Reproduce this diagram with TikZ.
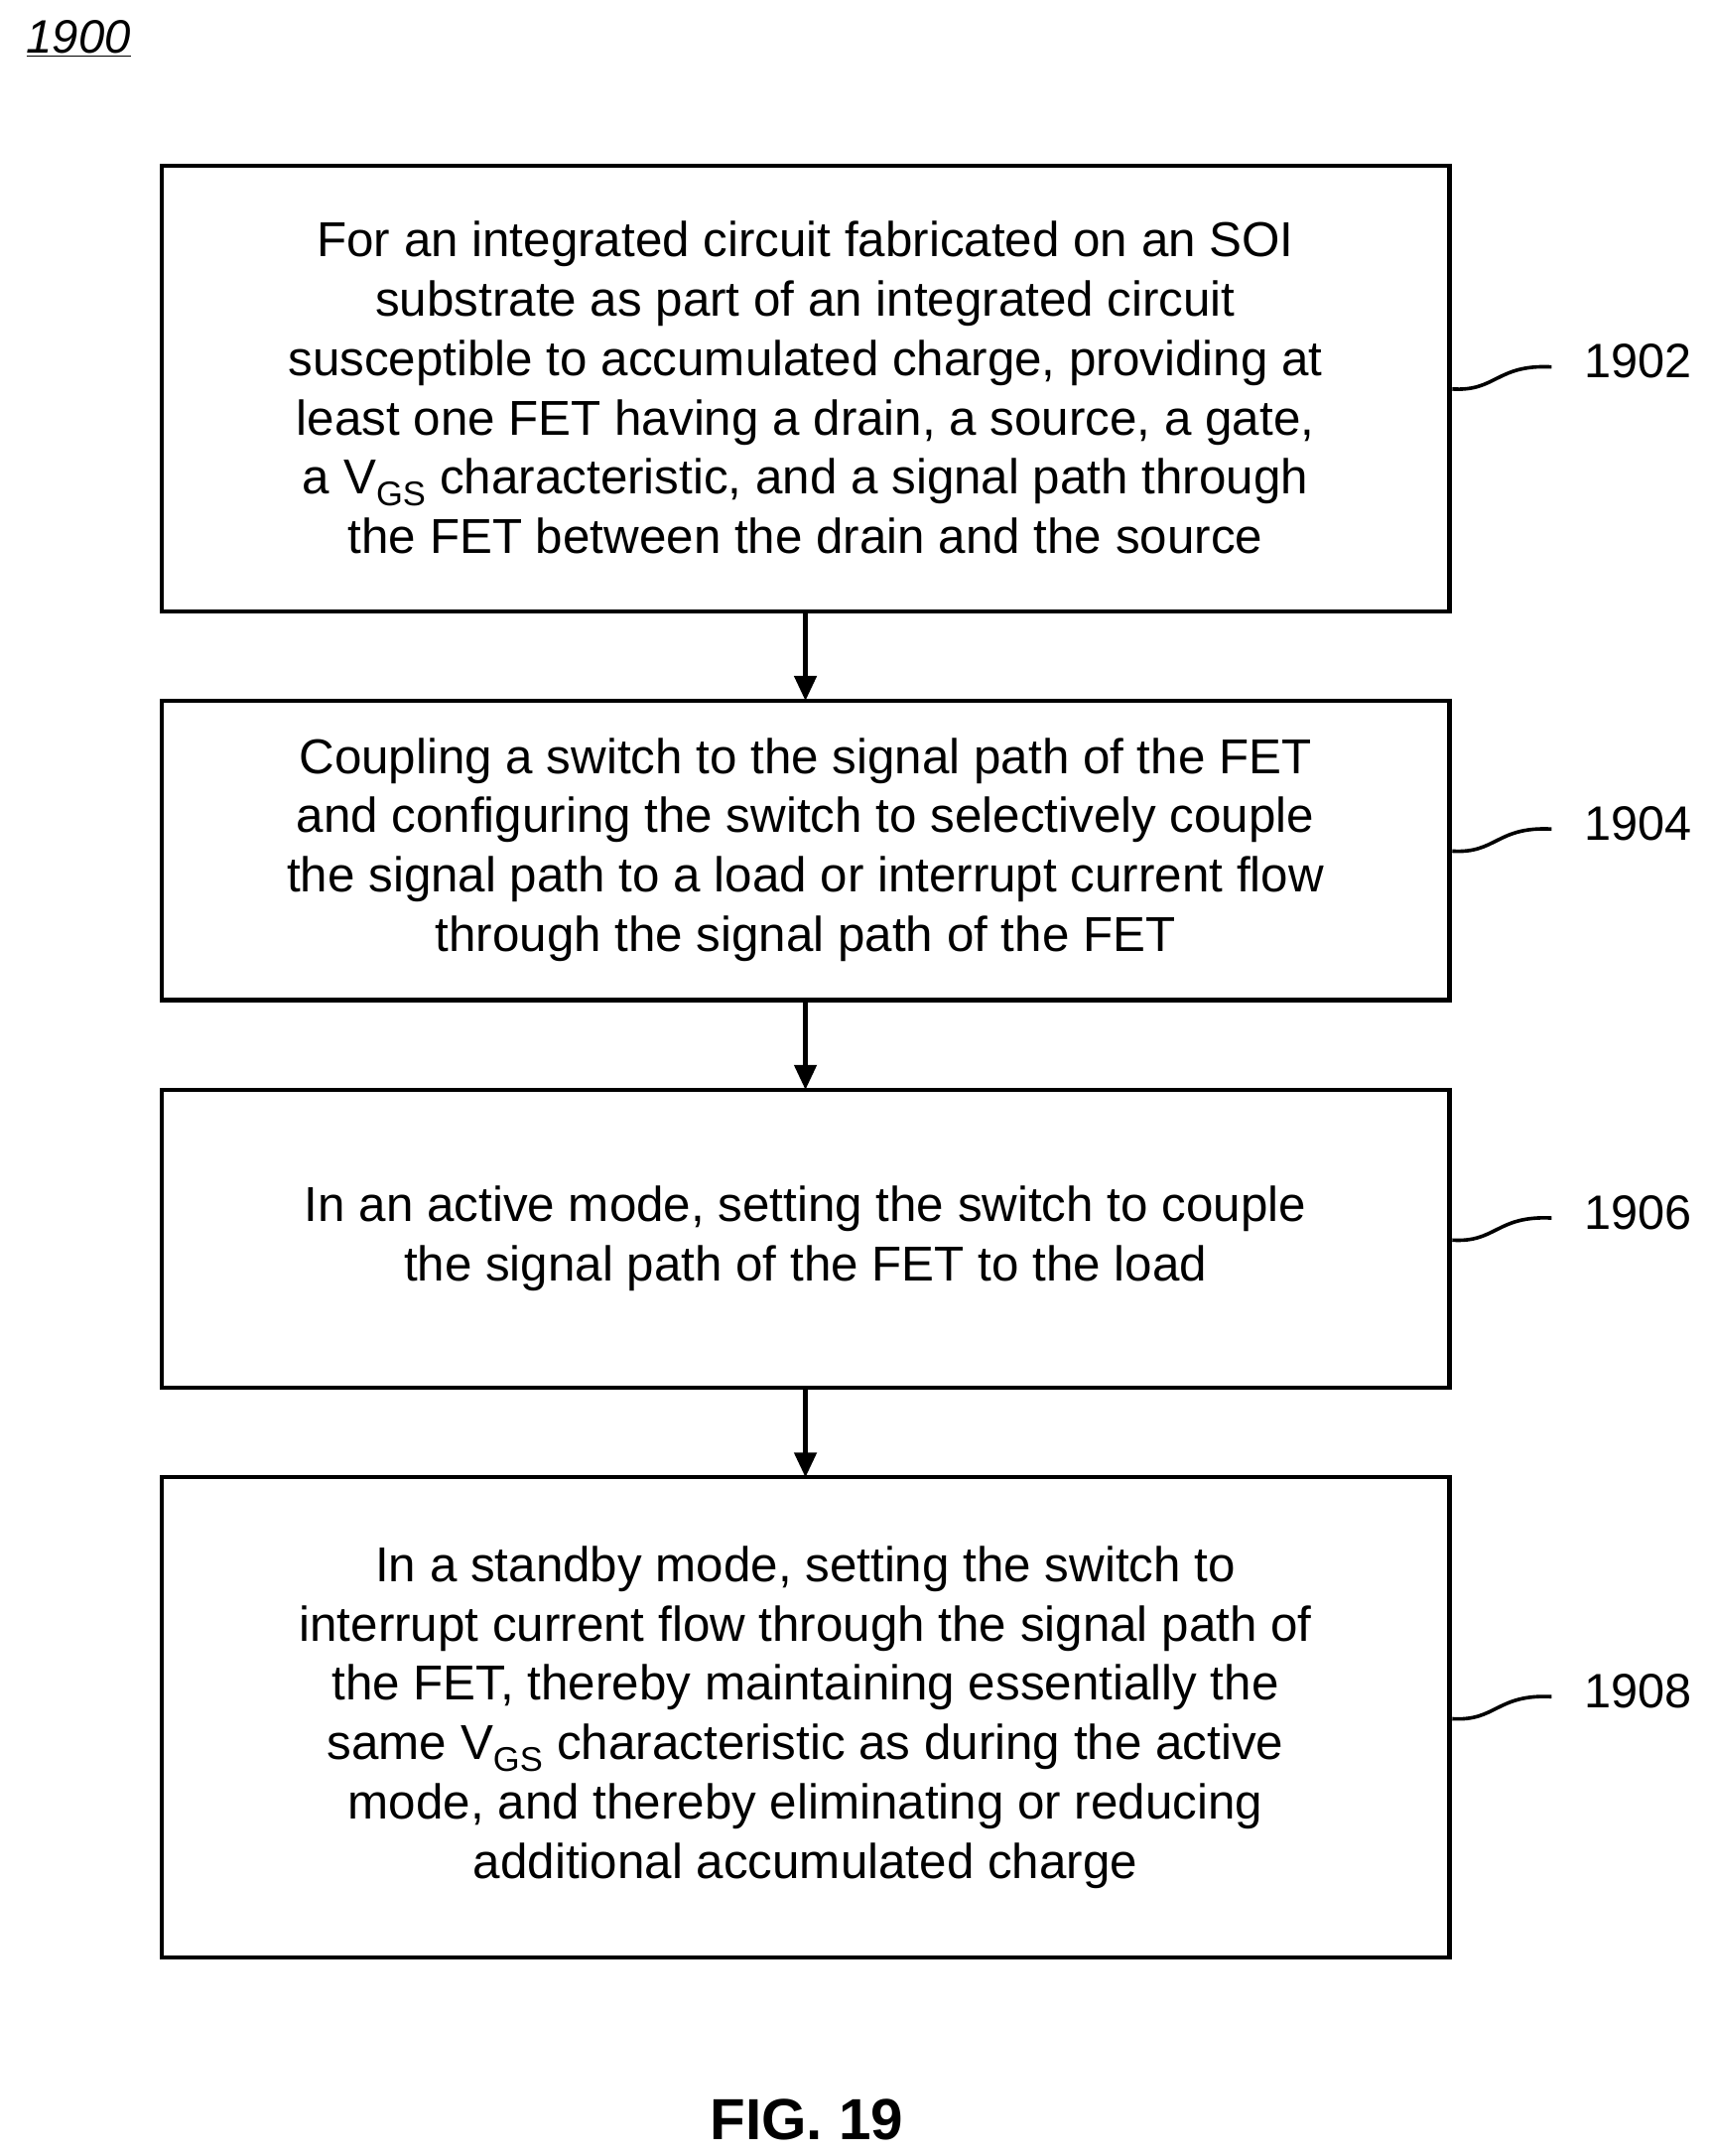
\documentclass[tikz,border=0pt]{standalone}
\usepackage{fontspec}
\setmainfont{Liberation Sans}
\usetikzlibrary{arrows.meta}
\begin{document}
\begin{tikzpicture}[x=1pt,y=-1pt,
  box/.style={draw,line width=3pt,inner sep=0pt},
  txt/.style={align=center,font=\fontsize{35.5}{43}\selectfont},
  lab/.style={font=\fontsize{35}{40}\selectfont,anchor=west},
  arr/.style={-{Triangle[length=18pt,width=16pt]},line width=3pt},
  sq/.style={line width=2.6pt}]
\useasboundingbox (0,0) rectangle (1240,1563);
\node[font=\itshape\fontsize{34}{38}\selectfont] (t) at (57,28) {\underline{1900}};
\draw[box] (117,120) rectangle (1051,443);
\draw[box] (117,508) rectangle (1051,725);
\draw[box] (117,790) rectangle (1051,1006);
\draw[box] (117,1071) rectangle (1051,1419);
\coordinate (b1) at (584,443); \coordinate (t2) at (584,508);
\coordinate (b2) at (584,725); \coordinate (t3) at (584,790);
\coordinate (b3) at (584,1006); \coordinate (t4) at (584,1071);
\draw[arr] (b1) -- (t2);
\draw[arr] (b2) -- (t3);
\draw[arr] (b3) -- (t4);
\node[txt] (n1) at (584,281) {For an integrated circuit fabricated on an SOI\\substrate as part of an integrated circuit\\susceptible to accumulated charge, providing at\\least one FET having a drain, a source, a gate,\\a V\textsubscript{GS} characteristic, and a signal path through\\the FET between the drain and the source};
\node[txt] (n2) at (584,616) {Coupling a switch to the signal path of the FET\\and configuring the switch to selectively couple\\the signal path to a load or interrupt current flow\\through the signal path of the FET};
\node[txt] (n3) at (584,898) {In an active mode, setting the switch to couple\\the signal path of the FET to the load};
\node[txt] (n4) at (584,1245) {In a standby mode, setting the switch to\\interrupt current flow through the signal path of\\the FET, thereby maintaining essentially the\\same V\textsubscript{GS} characteristic as during the active\\mode, and thereby eliminating or reducing\\additional accumulated charge};
\foreach \y/\l in {262/1902,597/1904,879/1906,1226/1908}{
  \draw[sq] (1053,\y+20) .. controls (1085,\y+22) and (1085,\y+2) .. (1125,\y+4);
  \node[lab] at (1145,\y) {\l};
}
\node[font=\bfseries\fontsize{42}{46}\selectfont] (f) at (585,1537) {FIG. 19};
\end{tikzpicture}
\end{document}
